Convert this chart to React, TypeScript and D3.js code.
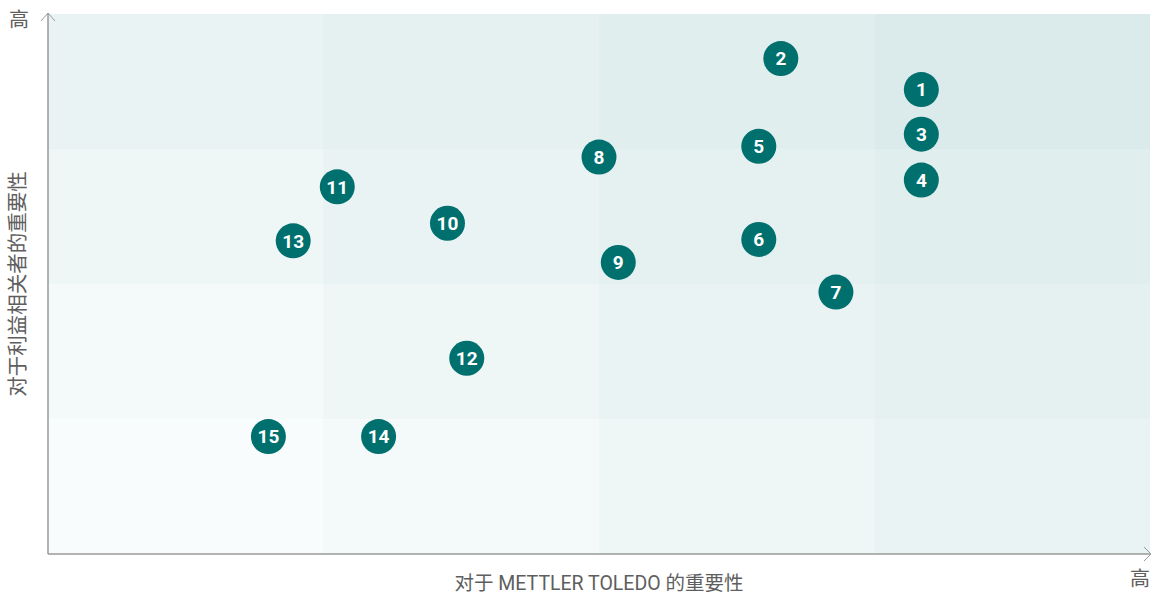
import React from "react";
import * as d3 from "d3";

// topic numbers and their position on the matrix (0..4 on both axes)
const topics = ["1", "2", "3", "4", "5", "6", "7", "8", "9", "10", "11", "12", "13", "14", "15"];
const companyImportance = [3.17, 2.66, 3.17, 3.17, 2.58, 2.58, 2.86, 2.0, 2.07, 1.45, 1.05, 1.52, 0.89, 1.2, 0.8];
const stakeholderImportance = [3.44, 3.67, 3.11, 2.77, 3.02, 2.33, 1.94, 2.94, 2.16, 2.45, 2.72, 1.45, 2.32, 0.87, 0.87];

const bands = [0, 1, 2, 3];
const xTitle = "对于 METTLER TOLEDO 的重要性";
const yTitle = "对于利益相关者的重要性";
const highLabel = "高";

const W = 1160,
  H = 597;
const margin = { top: 14, right: 10, bottom: 43, left: 48 };
const teal = "#00706e";
const axisColor = "#9a9a9a";
const textColor = "#5e5e5e";

const App = () => {
  const x = d3.scaleLinear().domain([0, 4]).range([margin.left, W - margin.right]);
  const y = d3.scaleLinear().domain([0, 4]).range([H - margin.bottom, margin.top]);
  const shade = d3.scaleLinear().domain([0, 6]).range([0.025, 0.14]);

  const x0 = x(0),
    y0 = y(0),
    x1 = x(4),
    y1 = y(4);

  return (
    <svg
      width={W}
      height={H}
      style={{ position: "absolute", left: 0, top: 0, background: "#fff" }}
    >
      {/* background grid, darker toward the top right */}
      {bands.map((i) =>
        bands.map((j) => (
          <rect
            key={`c${i}-${j}`}
            x={x(i)}
            y={y(j + 1)}
            width={x(i + 1) - x(i)}
            height={y(j) - y(j + 1)}
            fill={teal}
            fillOpacity={shade(i + j)}
          />
        ))
      )}

      {/* axes with open arrow heads */}
      <g stroke={axisColor} fill="none" strokeWidth={1.5}>
        <line x1={x0} y1={y0} x2={x0} y2={y1 - 1} />
        <line x1={x0} y1={y0} x2={x1 + 1} y2={y0} />
      </g>
      <g stroke={axisColor} fill="none" strokeWidth={1}>
        <polyline points={`${x0 - 7},${y1 + 7} ${x0},${y1 - 1} ${x0 + 7},${y1 + 7}`} />
        <polyline points={`${x1 - 6},${y0 - 7} ${x1 + 1},${y0} ${x1 - 6},${y0 + 7}`} />
      </g>

      <g fontFamily="Roboto, 'Noto Sans CJK SC', sans-serif" fill={textColor} fontSize={20}>
        <text x={19} y={y1 + 8} textAnchor="middle" dominantBaseline="middle">
          {highLabel}
        </text>
        <text x={x1 - 10} y={y0 + 27} textAnchor="middle" dominantBaseline="middle">
          {highLabel}
        </text>
        <text
          x={(x0 + x1) / 2}
          y={y0 + 31}
          textAnchor="middle"
          dominantBaseline="middle"
          fontSize={19.5}
        >
          {xTitle}
        </text>
        <text
          transform={`translate(20,${(y0 + y1) / 2}) rotate(-90)`}
          textAnchor="middle"
          dominantBaseline="middle"
          fontSize={20.5}
        >
          {yTitle}
        </text>
      </g>

      {/* numbered topics */}
      {topics.map((t, i) => (
        <g key={t} transform={`translate(${x(companyImportance[i])},${y(stakeholderImportance[i])})`}>
          <circle r={17.5} fill={teal} />
          <text
            textAnchor="middle"
            dy="0.36em"
            fill="#fff"
            fontFamily="Roboto, sans-serif"
            fontWeight={700}
            fontSize={19}
          >
            {t}
          </text>
        </g>
      ))}
    </svg>
  );
};

export default App;
